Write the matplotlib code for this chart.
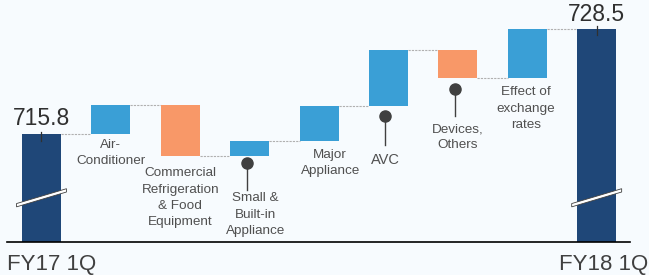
import numpy as np
from matplotlib import pyplot as plt
from matplotlib.patches import Polygon

plt.rcParams['font.family'] = ['Liberation Sans', 'DejaVu Sans']

# Данные
start_label = 'FY17 1Q'
end_label = 'FY18 1Q'
start_value = 715.8
end_value = 728.5
steps = ['Air-\nConditioner', 'Commercial\nRefrigeration\n& Food\nEquipment',
         'Small &\nBuilt-in\nAppliance', 'Major\nAppliance', 'AVC',
         'Devices,\nOthers', 'Effect of\nexchange\nrates']
deltas = [3.5, -6.2, 1.8, 4.3, 6.7, -3.4, 6.0]

navy = '#1f4778'
blue = '#3a9fd6'
orange = '#f89868'
text_grey = '#505050'

base = 702.7  # условная нижняя граница (ось разорвана)
w = 0.56

fig = plt.figure(figsize=(6.49, 2.75), dpi=100)
fig.patch.set_facecolor('#f7fbfe')
ax = fig.add_axes([0, 0, 1, 1])
ax.set_facecolor('#f7fbfe')
ax.set_xlim(-0.598, 8.754)
ax.set_ylim(698.7, 732.0)
ax.axis('off')

n = len(deltas)
xs = np.arange(n + 2)

# итоговые столбцы
ax.bar(xs[0], start_value - base, bottom=base, width=w, color=navy, zorder=2)
ax.bar(xs[-1], end_value - base, bottom=base, width=w, color=navy, zorder=2)

# промежуточные изменения
level = start_value
levels = [start_value]
for i, d in enumerate(deltas):
    c = blue if d > 0 else orange
    ax.bar(xs[i + 1], abs(d), bottom=min(level, level + d), width=w, color=c, zorder=2)
    level += d
    levels.append(level)

# соединительные линии
for i in range(n + 1):
    ax.plot([xs[i] + w / 2, xs[i + 1] - w / 2], [levels[i], levels[i]],
            ls=(0, (2, 1)), color='#b0b0b0', lw=0.8, zorder=1)

# базовая линия
ax.plot([-0.497, 8.48], [base, base], color='black', lw=1.2, zorder=3)

# разрывы
for x0 in (xs[0], xs[-1]):
    yc = 708.0
    dx = 0.36
    p = Polygon([[x0 - dx, yc - 1.05], [x0 + dx, yc + 0.75], [x0 + dx, yc + 1.15], [x0 - dx, yc - 0.65]],
                closed=True, facecolor='white', edgecolor='#404040', lw=0.6, zorder=4)
    ax.add_patch(p)

# подписи значений
ax.text(xs[0], start_value + 1.9, f'{start_value}', ha='center', va='center', fontsize=16.5, color='#303030')
ax.plot([xs[0], xs[0]], [start_value - 0.85, start_value + 0.25], color='#303030', lw=0.9, zorder=5)
ax.text(xs[-1], end_value + 1.7, f'{end_value}', ha='center', va='center', fontsize=16.5, color='#303030')
ax.plot([xs[-1], xs[-1]], [end_value - 0.73, end_value + 0.36], color='#303030', lw=0.9, zorder=5)

ax.text(xs[0] + 0.15, 699.25, start_label, ha='center', va='baseline', fontsize=16, color='#404040')
ax.text(xs[-1] + 0.1, 699.25, end_label, ha='center', va='baseline', fontsize=16, color='#404040')

# подписи категорий: (x-сдвиг, центр текста по y, выноска)
lab_pos = [(0.0, 713.44, None), (0.0, 708.06, None), (0.08, 706.0, (712.3, 709.0)),
           (0.16, 712.3, None), (-0.04, 712.66, (717.9, 714.5)),
           (0.0, 715.38, (721.2, 718.0)), (-0.02, 718.86, None)]
for i, (lab, (dxl, yl, stem)) in enumerate(zip(steps, lab_pos)):
    x = xs[i + 1]
    fs = 10.5 if lab == 'AVC' else 9.7
    if stem is not None:
        sx = x - 0.04 if i != 4 else x - 0.05
        ax.plot([sx, sx], [stem[1], stem[0]], color='#404040', lw=1.0, zorder=5)
        ax.plot(sx, stem[0], 'o', color='#404040', ms=8, zorder=6)
    ax.text(x + dxl, yl, lab, ha='center', va='center', fontsize=fs, color=text_grey, linespacing=1.48)

plt.savefig('out.png', dpi=100, facecolor=fig.get_facecolor())
